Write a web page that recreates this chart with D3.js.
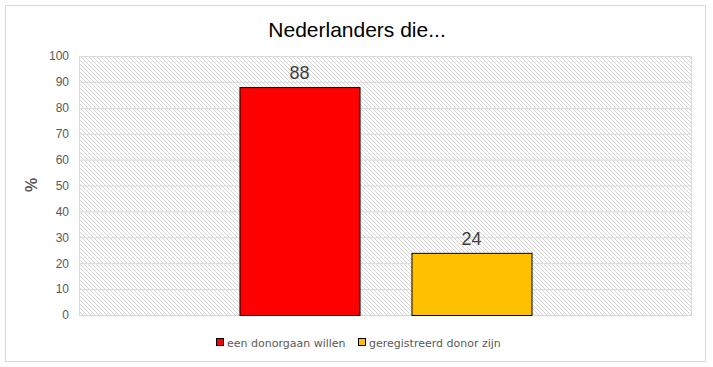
<!DOCTYPE html>
<html><head><meta charset="utf-8">
<script src="https://cdn.jsdelivr.net/npm/d3@7"></script>
<style>body{margin:0;background:#fff}</style>
</head><body>
<script>
const title = "Nederlanders die...";
const series = ["een donorgaan willen", "geregistreerd donor zijn"];
const values = [88, 24];
const colors = ["#FF0000", "#FFC000"];
const yTicks = [0,10,20,30,40,50,60,70,80,90,100];
const yLabel = "%";

const W = 713, H = 367;
const m = {left: 79, right: 713-692, top: 56, bottom: 367-315};
const svg = d3.select("body").append("svg").attr("width", W).attr("height", H);

const defs = svg.append("defs");
const pat = defs.append("pattern").attr("id","hatch").attr("patternUnits","userSpaceOnUse")
  .attr("width",4).attr("height",4);
pat.append("rect").attr("width",4).attr("height",4).attr("fill","#fff");
pat.append("path").attr("d","M-1,-1 L5,5 M-1,3 L1,5 M3,-1 L5,1").attr("stroke","#d4d4d4").attr("stroke-width",1);

svg.append("rect").attr("x",5.5).attr("y",5.5).attr("width",700).attr("height",356)
  .attr("fill","#fff").attr("stroke","#d9d9d9");

const x = d3.scaleBand().domain(series).range([m.left, W-m.right]).paddingInner(0.302).paddingOuter(0.933);
const y = d3.scaleLinear().domain([0,100]).range([H-m.bottom, m.top]);

svg.append("rect").attr("x",m.left).attr("y",m.top).attr("width",W-m.right-m.left).attr("height",H-m.bottom-m.top)
  .attr("fill","url(#hatch)");

const ya = svg.append("g").attr("transform",`translate(${m.left},0)`)
  .call(d3.axisLeft(y).tickValues(yTicks).tickSize(-(W-m.right-m.left)).tickPadding(10));
ya.select(".domain").remove();
ya.selectAll(".tick line").attr("stroke","#d9d9d9");
ya.selectAll(".tick text").attr("fill","#595959").style("font-family","Liberation Sans, Arial, sans-serif").style("font-size","12px");

svg.append("line").attr("x1",m.left+0.5).attr("x2",m.left+0.5).attr("y1",m.top).attr("y2",H-m.bottom).attr("stroke","#d9d9d9");
svg.append("line").attr("x1",W-m.right-0.5).attr("x2",W-m.right-0.5).attr("y1",m.top).attr("y2",H-m.bottom).attr("stroke","#d9d9d9");

svg.selectAll(".bar").data(series).join("rect").attr("class","bar")
  .attr("x",d=>x(d)+0.5).attr("width",x.bandwidth())
  .attr("y",(d,i)=>y(values[i])+0.5).attr("height",(d,i)=>y(0)-y(values[i]))
  .attr("fill",(d,i)=>colors[i]).attr("stroke","#000").attr("stroke-width",1);

svg.selectAll(".lbl").data(series).join("text").attr("class","lbl")
  .attr("x",d=>x(d)+x.bandwidth()/2).attr("y",(d,i)=>y(values[i])-8)
  .attr("text-anchor","middle").attr("fill","#404040")
  .style("font-family","Liberation Sans, Arial, sans-serif").style("font-size","18px")
  .text((d,i)=>values[i]);

svg.append("text").attr("x",357).attr("y",37).attr("text-anchor","middle").attr("fill","#000")
  .style("font-family","Liberation Sans Narrow, Liberation Sans, Arial, sans-serif").style("font-size","21px")
  .text(title);

svg.append("text").attr("transform","translate(37,185) rotate(-90)").attr("text-anchor","middle")
  .attr("fill","#595959").style("font-family","Liberation Sans, Arial, sans-serif").style("font-size","16px").style("font-weight","bold")
  .text(yLabel);

const legX = [216, 358];
const lg = svg.selectAll(".leg").data(series).join("g").attr("class","leg")
  .attr("transform",(d,i)=>`translate(${legX[i]},343)`);
lg.append("rect").attr("x",0.5).attr("y",-4.5).attr("width",7).attr("height",7)
  .attr("fill",(d,i)=>colors[i]).attr("stroke","#000");
lg.append("text").attr("x",11).attr("y",4).attr("fill","#595959")
  .style("font-family","DejaVu Sans, sans-serif").style("font-size","11px").text(d=>d);
</script>
</body></html>
